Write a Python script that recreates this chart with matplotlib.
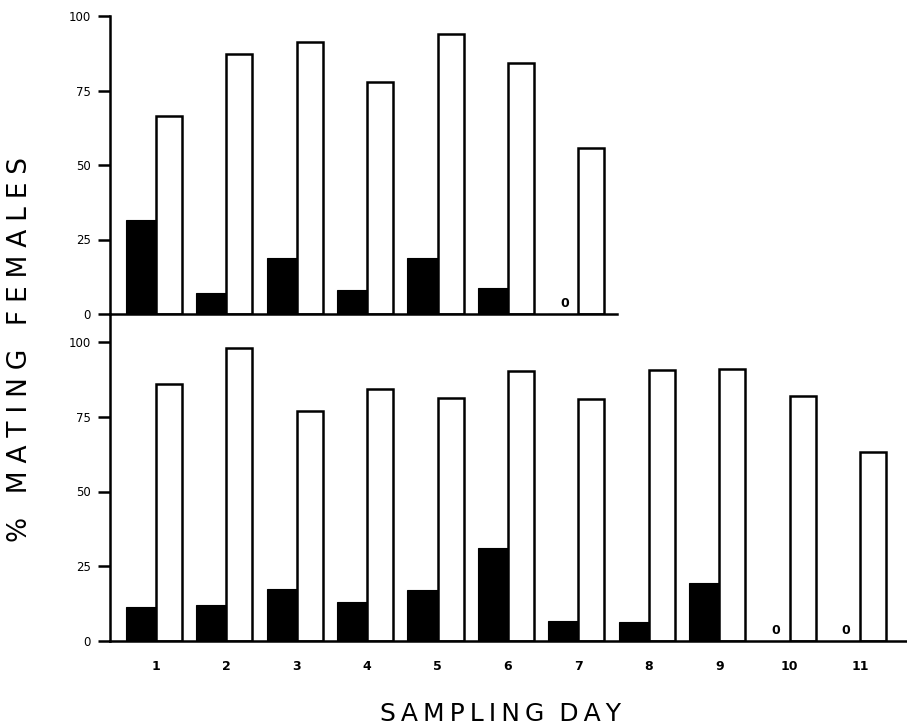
import matplotlib
matplotlib.use("Agg")
import matplotlib.pyplot as plt

# ---- data ----
top_days = [1, 2, 3, 4, 5, 6, 7]
top_black = [31.5, 7.2, 18.7, 8.0, 18.9, 8.7, 0]
top_white = [66.6, 87.4, 91.3, 77.8, 93.9, 84.2, 55.6]

bot_days = [1, 2, 3, 4, 5, 6, 7, 8, 9, 10, 11]
bot_black = [11.5, 12.0, 17.5, 13.0, 17.2, 31.0, 6.6, 6.4, 19.5, 0, 0]
bot_white = [86.0, 97.9, 77.0, 84.4, 81.4, 90.3, 80.8, 90.6, 90.9, 81.9, 63.3]

ytick_vals = [0, 25, 50, 75, 100]
ytick_labels = ["0", "25", "50", "75", "100"]
xtick_labels = [str(d) for d in bot_days]

W, H = 907, 728
fig = plt.figure(figsize=(W / 100, H / 100), dpi=100)
fig.patch.set_facecolor("white")

def px_box(left, right, top, bottom):
    return [left / W, (H - bottom) / H, (right - left) / W, (bottom - top) / H]

spacing = 70.4
x0 = 156.0
def day_at(px):
    return 1 + (px - x0) / spacing

ax_top = fig.add_axes(px_box(110, 617, 16, 314))
ax_bot = fig.add_axes(px_box(110, 907, 314, 641))

bw_black = 0.43
bw_white = 0.37
lw = 1.8

def draw(ax, days, black, white, zero_y):
    ax.bar([d - bw_black / 2 for d in days], black, width=bw_black,
           color="black", edgecolor="black", linewidth=0.8, zorder=2)
    ax.bar([d + bw_white / 2 for d in days], white, width=bw_white,
           color="white", edgecolor="black", linewidth=lw, zorder=2)
    for d, b in zip(days, black):
        if b == 0:
            ax.text(d - 0.2, zero_y, "0", ha="center", va="bottom",
                    fontsize=9, fontweight="bold", zorder=3)
    for s in ["top", "right"]:
        ax.spines[s].set_visible(False)
    for s in ["left", "bottom"]:
        ax.spines[s].set_linewidth(1.8)
    ax.set_yticks(ytick_vals)
    ax.set_yticklabels(ytick_labels, fontsize=8.5)
    ax.tick_params(axis="y", direction="out", length=9, width=1.8, pad=5)
    ax.set_facecolor("none")

draw(ax_top, top_days, top_black, top_white, 1.5)
ax_top.set_xlim(day_at(110), day_at(617))
ax_top.set_ylim(0, 100)
ax_top.set_xticks([])

draw(ax_bot, bot_days, bot_black, bot_white, 1.5)
ax_bot.set_xlim(day_at(110), day_at(907))
ax_bot.set_ylim(0, (641 - 314) / ((641 - 342) / 100))
ax_bot.set_xticks(bot_days)
ax_bot.set_xticklabels(xtick_labels, fontsize=9, fontweight="bold")
ax_bot.tick_params(axis="x", length=0, pad=14)

ts = "\u2009"
gy = "\u2009\u200a"
ylab = (gy * 3).join(gy.join(w) for w in ["%", "MATING", "FEMALES"])
xlab = (ts * 3).join(ts.join(w) for w in ["SAMPLING", "DAY"])
fig.text(20 / W, (H - 350) / H, ylab, rotation=90, ha="center", va="center",
         fontsize=19, fontweight="normal")
fig.text(500 / W, (H - 714) / H, xlab, ha="center", va="center",
         fontsize=18, fontweight="normal")

fig.savefig("out.png", dpi=100, facecolor="white")
